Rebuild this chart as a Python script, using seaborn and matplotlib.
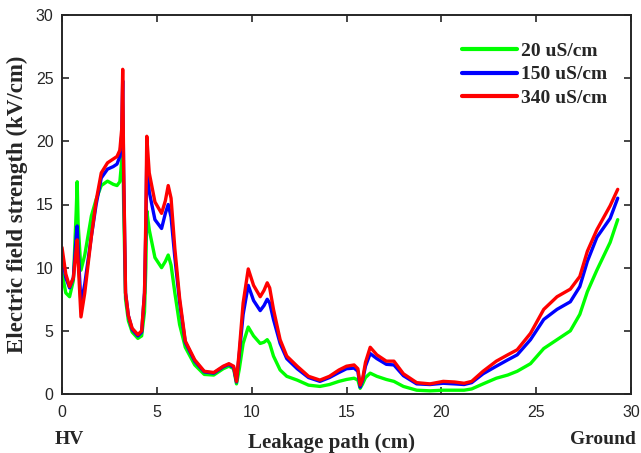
import numpy as np
import pandas as pd
import matplotlib
matplotlib.use("Agg")
import matplotlib.pyplot as plt
import seaborn as sns

# ---- data ----
x_cm = [0, 0.2, 0.4, 0.6, 0.75, 0.8, 0.85, 1.0, 1.2, 1.55, 1.8, 2.07, 2.4, 2.7, 2.9,
        3.05, 3.15, 3.2, 3.25, 3.35, 3.5, 3.7, 4.0, 4.2, 4.35, 4.42, 4.47, 4.6, 4.9,
        5.25, 5.45, 5.6, 5.75, 5.95, 6.2, 6.5, 7.0, 7.5, 8.0, 8.5, 8.8, 9.05, 9.2,
        9.35, 9.55, 9.82, 10.1, 10.45, 10.65, 10.82, 10.95, 11.15, 11.5, 11.85, 12.4,
        13.0, 13.6, 14.1, 14.6, 15.0, 15.4, 15.6, 15.72, 15.85, 16.0, 16.25, 16.6,
        17.1, 17.5, 18.0, 18.7, 19.4, 20.1, 20.7, 21.2, 21.6, 22.2, 22.9, 23.5, 24.0,
        24.7, 25.4, 26.1, 26.8, 27.3, 27.7, 28.2, 28.9, 29.3]

e_340 = [11.6, 9.5, 8.5, 9.2, 11.5, 12.2, 10.5, 6.1, 8.0, 12.5, 15.3, 17.5, 18.3, 18.6, 18.8,
         19.3, 21.0, 25.7, 18.0, 8.0, 6.2, 5.2, 4.7, 5.0, 8.0, 14.0, 20.4, 17.5, 15.2,
         14.3, 15.3, 16.5, 15.5, 11.5, 7.6, 4.2, 2.7, 1.8, 1.7, 2.2, 2.4, 2.2, 1.0,
         3.5, 7.2, 9.9, 8.6, 7.7, 8.2, 8.8, 8.4, 6.7, 4.3, 3.0, 2.2,
         1.4, 1.1, 1.4, 1.9, 2.2, 2.3, 2.0, 0.7, 1.2, 2.5, 3.7, 3.1,
         2.6, 2.6, 1.6, 0.9, 0.8, 1.0, 0.95, 0.85, 1.0, 1.8, 2.6, 3.1, 3.5,
         4.8, 6.7, 7.7, 8.3, 9.3, 11.3, 13.0, 14.9, 16.2]

e_150 = [11.0, 9.2, 8.4, 9.2, 12.5, 13.3, 11.5, 7.1, 8.7, 12.5, 15.0, 17.1, 17.8, 18.0, 18.2,
         18.8, 20.5, 24.8, 17.5, 8.0, 6.2, 5.1, 4.6, 4.9, 8.0, 13.0, 18.8, 16.0, 13.8,
         13.1, 14.3, 15.0, 14.0, 10.8, 7.3, 4.1, 2.6, 1.75, 1.65, 2.15, 2.35, 2.1, 0.95,
         3.2, 6.3, 8.6, 7.4, 6.6, 7.0, 7.5, 7.2, 5.9, 4.0, 2.8, 2.0,
         1.3, 1.0, 1.3, 1.7, 2.0, 2.05, 1.8, 0.55, 1.1, 2.2, 3.2, 2.8,
         2.35, 2.3, 1.45, 0.8, 0.75, 0.85, 0.8, 0.75, 0.9, 1.6, 2.2, 2.7, 3.1,
         4.3, 5.9, 6.7, 7.3, 8.5, 10.5, 12.4, 13.9, 15.5]

e_20 = [9.6, 8.0, 7.7, 9.0, 14.5, 16.8, 13.5, 9.8, 11.0, 14.1, 15.4, 16.5, 16.85, 16.6, 16.5,
        16.8, 18.5, 20.0, 15.0, 7.5, 5.8, 4.9, 4.4, 4.6, 6.5, 10.0, 14.5, 13.0, 10.8,
        10.0, 10.5, 11.0, 10.2, 8.0, 5.5, 3.7, 2.3, 1.55, 1.5, 2.0, 2.2, 2.0, 0.8,
        2.0, 4.0, 5.3, 4.6, 4.0, 4.1, 4.3, 4.0, 3.0, 1.9, 1.4, 1.1,
        0.7, 0.6, 0.75, 1.0, 1.15, 1.25, 1.1, 0.45, 0.8, 1.3, 1.65, 1.4,
        1.15, 1.0, 0.6, 0.3, 0.25, 0.3, 0.3, 0.3, 0.4, 0.8, 1.25, 1.5, 1.8,
        2.4, 3.6, 4.3, 5.0, 6.3, 8.1, 9.8, 12.0, 13.8]

series_names = ["20 uS/cm", "150 uS/cm", "340 uS/cm"]
series_colors = ["#00ff00", "#0000ff", "#ff0000"]
x_ticks = [0, 5, 10, 15, 20, 25, 30]
y_ticks = [0, 5, 10, 15, 20, 25, 30]

df = pd.concat([
    pd.DataFrame({"x": x_cm, "E": e_20, "s": series_names[0]}),
    pd.DataFrame({"x": x_cm, "E": e_150, "s": series_names[1]}),
    pd.DataFrame({"x": x_cm, "E": e_340, "s": series_names[2]}),
], ignore_index=True)

sns.set_style("white")
plt.rcParams["font.family"] = ["Liberation Sans", "DejaVu Sans"]

fig = plt.figure(figsize=(6.41, 4.53), dpi=100)
ax = fig.add_axes([62 / 641, 1 - 394 / 453, (631 - 62) / 641, (394 - 15) / 453])

sns.lineplot(data=df, x="x", y="E", hue="s", palette=series_colors,
             hue_order=series_names, sort=False, estimator=None,
             linewidth=2.4, ax=ax)
for ln in ax.get_lines():
    ln.set_solid_joinstyle("round")

ax.set_xlim(0, 30)
ax.set_ylim(0, 30)
ax.set_xticks(x_ticks)
ax.set_yticks(y_ticks)
ax.tick_params(direction="in", length=5, width=1.2, top=True, right=True,
               bottom=True, left=True, labelsize=11.5, colors="#262626")
ax.tick_params(axis="x", pad=8)
ax.tick_params(axis="y", pad=6)
for sp in ax.spines.values():
    sp.set_linewidth(1.4)
    sp.set_color("#262626")
    sp.set_visible(True)

serif_bold = dict(family="Liberation Serif", weight="bold", size=14, color="#262626")
xlabel_font = dict(family="Liberation Serif", weight="bold", size=15, color="#262626")
ylabel_font = dict(family="Liberation Serif", weight="bold", size=16.5, color="#262626")
ax.set_xlabel("Leakage path (cm)", fontdict=xlabel_font, labelpad=9)
ax.xaxis.label.set_x((331 - 62) / 569)
ax.set_ylabel("Electric field strength (kV/cm)", fontdict=ylabel_font, labelpad=6)
fig.text(55 / 641, 1 - 439 / 453, "HV", ha="left", va="center", **serif_bold)
fig.text(636 / 641, 1 - 439 / 453, "Ground", ha="right", va="center", **serif_bold)

leg = ax.legend(loc="upper left", bbox_to_anchor=(0.673, 0.975), frameon=False,
                handlelength=2.8, handletextpad=0.2, labelspacing=0.32,
                prop=dict(family="Liberation Serif", weight="bold", size=14))
for t in leg.get_texts():
    t.set_color("#262626")
for h in leg.get_lines():
    h.set_linewidth(3)

fig.savefig("out.png", dpi=100)
